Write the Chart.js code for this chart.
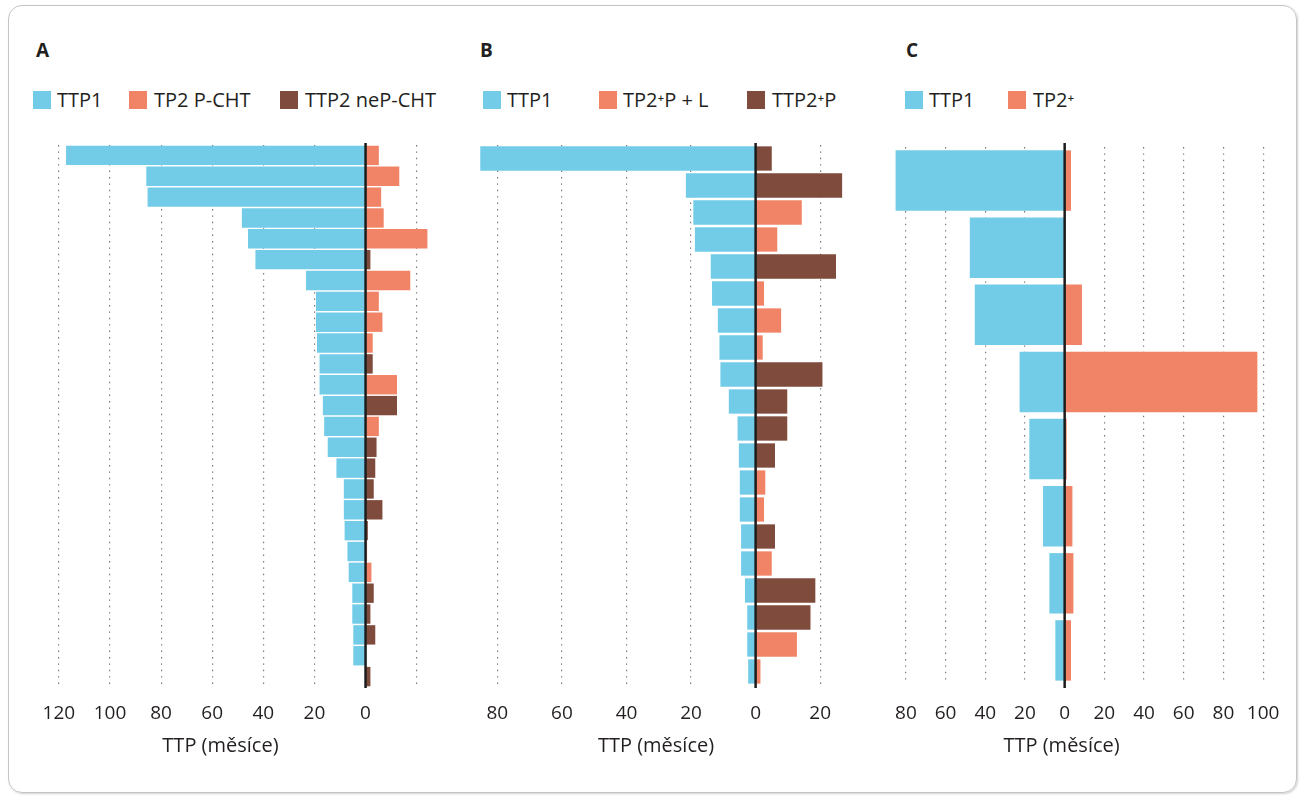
<!DOCTYPE html>
<html><head><meta charset="utf-8">
<script src="https://cdn.jsdelivr.net/npm/chart.js@4/dist/chart.umd.min.js"></script>
<style>
html,body{margin:0;padding:0;background:#fff;}
body{width:1304px;height:800px;position:relative;overflow:hidden;font-family:"Open Sans",sans-serif;color:#231f20;}
.card{position:absolute;left:8px;top:5px;width:1289px;height:788px;border:1.5px solid #c4c4c4;border-radius:14px;box-sizing:border-box;box-shadow:1px 1px 2px rgba(0,0,0,0.18);}
.ttl{position:absolute;font-weight:700;font-size:19px;line-height:23px;}
.lg{position:absolute;font-size:20px;line-height:24px;white-space:nowrap;}
.sw{position:absolute;width:18px;height:18px;}
canvas{position:absolute;}
</style></head><body>
<div class="card"></div>
<div id="root"></div>
<script>
// ---------- data ----------
const rowsA = ['1','2','3','4','5','6','7','8','9','10','11','12','13','14','15','16','17','18','19','20','21','22','23','24','25','26'];
const ttp1A = [117.2,85.8,85.3,48.4,46.0,43.1,23.3,19.4,19.4,19.0,18.0,18.0,16.7,16.2,14.8,11.4,8.5,8.5,8.2,7.1,6.6,5.2,5.2,4.8,4.8,0];
const tp2PchtA = [5.2,13.2,6.1,7.1,24.2,null,17.5,5.2,6.6,2.8,null,12.3,null,5.2,null,null,null,null,null,0.6,2.3,null,null,null,null,null];
const ttp2NepchtA = [null,null,null,null,null,1.9,null,null,null,null,2.8,null,12.3,null,4.3,3.8,3.2,6.6,0.9,null,null,3.2,1.9,3.8,null,1.9];

const rowsB = ['1','2','3','4','5','6','7','8','9','10','11','12','13','14','15','16','17','18','19','20'];
const ttp1B = [85.3,21.6,19.3,18.8,13.9,13.5,11.7,11.2,10.9,8.3,5.6,5.2,4.9,4.9,4.5,4.5,3.3,2.6,2.6,2.3];
const tp2PLB = [null,null,14.3,6.7,null,2.6,7.9,2.2,null,null,null,null,3.0,2.6,null,5.0,null,null,12.8,1.5];
const ttp2PB = [5.0,26.8,null,null,24.9,null,null,null,20.7,9.8,9.8,6.0,null,null,6.0,null,18.5,17.0,null,null];

const rowsC = ['1','2','3','4','5','6','7','8'];
const ttp1C = [85.2,47.8,45.3,22.7,17.8,10.9,7.7,4.7];
const tp2C = [3.2,null,8.7,97.1,1.0,3.9,4.4,3.2];

const ticksA = [-120,-100,-80,-60,-40,-20,0,20];
const tickLabelsA = ['120','100','80','60','40','20','0',''];
const ticksB = [-80,-60,-40,-20,0,20];
const tickLabelsB = ['80','60','40','20','0','20'];
const ticksC = [-80,-60,-40,-20,0,20,40,60,80,100];
const tickLabelsC = ['80','60','40','20','0','20','40','60','80','100'];

const axisTitle = 'TTP (měsíce)';
const panelTitles = ['A','B','C'];
const legendA = ['TTP1','TP2 P-CHT','TTP2 neP-CHT'];
const legendB = ['TTP1','TP2\u207AP + L','TTP2\u207AP'];
const legendC = ['TTP1','TP2\u207A'];

// ---------- style ----------
const BLUE = '#72cce8', ORANGE = '#f18466', BROWN = '#7f4b3c';
const FONT = '"Open Sans", sans-serif';
const root = document.getElementById('root');

function addText(cls, txt, x, y) {
  const d = document.createElement('div'); d.className = cls; d.textContent = txt;
  d.style.left = x + 'px'; d.style.top = y + 'px'; root.appendChild(d);
}
function addSwatch(color, x, y) {
  const d = document.createElement('div'); d.className = 'sw'; d.style.background = color;
  d.style.left = x + 'px'; d.style.top = y + 'px'; root.appendChild(d);
}

const zeroLine = {
  id: 'zeroLine',
  afterDatasetsDraw(chart, args, opts) {
    const x = chart.scales.x.getPixelForValue(0);
    const {ctx, chartArea} = chart;
    ctx.save();
    ctx.strokeStyle = '#1b1b1b'; ctx.lineWidth = 2.5;
    ctx.beginPath();
    ctx.moveTo(x, chartArea.top - (opts.extTop || 0));
    ctx.lineTo(x, chartArea.bottom + (opts.extBottom || 0));
    ctx.stroke(); ctx.restore();
  }
};
// axis title, drawn by the chart under its x scale, with a horizontal shift
const axisTitlePlugin = {
  id: 'axisTitle',
  afterDraw(chart, args, opts) {
    const s = chart.scales.x, ctx = chart.ctx;
    ctx.save();
    ctx.font = '20px ' + FONT; ctx.fillStyle = '#231f20';
    ctx.textAlign = 'center'; ctx.textBaseline = 'middle';
    ctx.fillText(opts.text, (s.left + s.right) / 2 + (opts.shift || 0), s.bottom - 12);
    ctx.restore();
  }
};

function makePanel(p) {
  const c = document.createElement('canvas');
  const w = p.right - p.left + 60, top = p.top - 10, h = 758 - top;
  c.width = w; c.height = h;
  c.style.left = (p.left - 30) + 'px'; c.style.top = top + 'px';
  c.style.width = w + 'px'; c.style.height = h + 'px';
  root.appendChild(c);
  const axisH = 758 - p.bottom;
  new Chart(c, {
    type: 'bar',
    data: { labels: p.rows, datasets: p.datasets.map(d => ({
      label: d.label, data: d.data, backgroundColor: d.color, borderWidth: 0,
      barPercentage: p.barPct, categoryPercentage: 1
    })) },
    options: {
      indexAxis: 'y', responsive: false, animation: false, devicePixelRatio: 1,
      layout: { padding: { left: 30, right: 30, top: 10, bottom: 0 } },
      plugins: { legend: { display: false }, tooltip: { enabled: false },
                 zeroLine: { extTop: p.extTop, extBottom: p.extBottom },
                 axisTitle: { text: axisTitle, shift: p.titleShift } },
      scales: {
        x: {
          type: 'linear', stacked: true, min: p.min, max: p.max,
          afterBuildTicks: s => { s.ticks = p.ticks.map(v => ({ value: v })); },
          afterFit: s => { s.height = axisH; },
          ticks: { autoSkip: false, maxRotation: 0, padding: 714 - 11.4 - p.bottom,
                   color: '#231f20', font: { family: FONT, size: 19 },
                   callback: (v, i) => p.tickLabels[i] },
          grid: { drawTicks: false, lineWidth: 1.2,
                  color: ctx => (ctx.tick && ctx.tick.value === 0) ? 'rgba(0,0,0,0)' : '#777' },
          border: { display: false, dash: [1.4, 5] },
          title: { display: false }
        },
        y: { type: 'category', stacked: true, display: false }
      }
    },
    plugins: [zeroLine, axisTitlePlugin]
  });
}

// titles and legends
addText('ttl', panelTitles[0], 36, 39);
addText('ttl', panelTitles[1], 480, 39);
addText('ttl', panelTitles[2], 906, 39);
const legPos = [
  [[33, 57], [129, 154], [280, 305]],
  [[483, 507], [599, 623], [747, 772]],
  [[905, 929], [1008, 1033]]
];
const legTexts = [legendA, legendB, legendC];
const legColors = [[BLUE, ORANGE, BROWN], [BLUE, ORANGE, BROWN], [BLUE, ORANGE]];
legTexts.forEach((arr, pi) => arr.forEach((t, i) => {
  addSwatch(legColors[pi][i], legPos[pi][i][0], 91);
  addText('lg', t, legPos[pi][i][1], 87.5);
}));

const neg = a => a.map(v => v === null ? null : -v);

makePanel({ left: 57, right: 432, top: 145, bottom: 687, min: -120, max: 26, barPct: 0.93,
  rows: rowsA, ticks: ticksA, tickLabels: tickLabelsA, extTop: 2, extBottom: 1, titleShift: -25,
  datasets: [
    { label: legendA[0], data: neg(ttp1A), color: BLUE },
    { label: legendA[1], data: tp2PchtA, color: ORANGE },
    { label: legendA[2], data: ttp2NepchtA, color: BROWN }
  ] });
makePanel({ left: 478, right: 846, top: 145, bottom: 685, min: -86, max: 28, barPct: 0.9,
  rows: rowsB, ticks: ticksB, tickLabels: tickLabelsB, extTop: 2, extBottom: 3, titleShift: -6,
  datasets: [
    { label: legendB[0], data: neg(ttp1B), color: BLUE },
    { label: legendB[1], data: tp2PLB, color: ORANGE },
    { label: legendB[2], data: ttp2PB, color: BROWN }
  ] });
makePanel({ left: 894, right: 1268, top: 147, bottom: 684, min: -86, max: 100, barPct: 0.9,
  rows: rowsC, ticks: ticksC, tickLabels: tickLabelsC, extTop: 4, extBottom: 4, titleShift: -17,
  datasets: [
    { label: legendC[0], data: neg(ttp1C), color: BLUE },
    { label: legendC[1], data: tp2C, color: ORANGE }
  ] });
</script>
</body></html>
